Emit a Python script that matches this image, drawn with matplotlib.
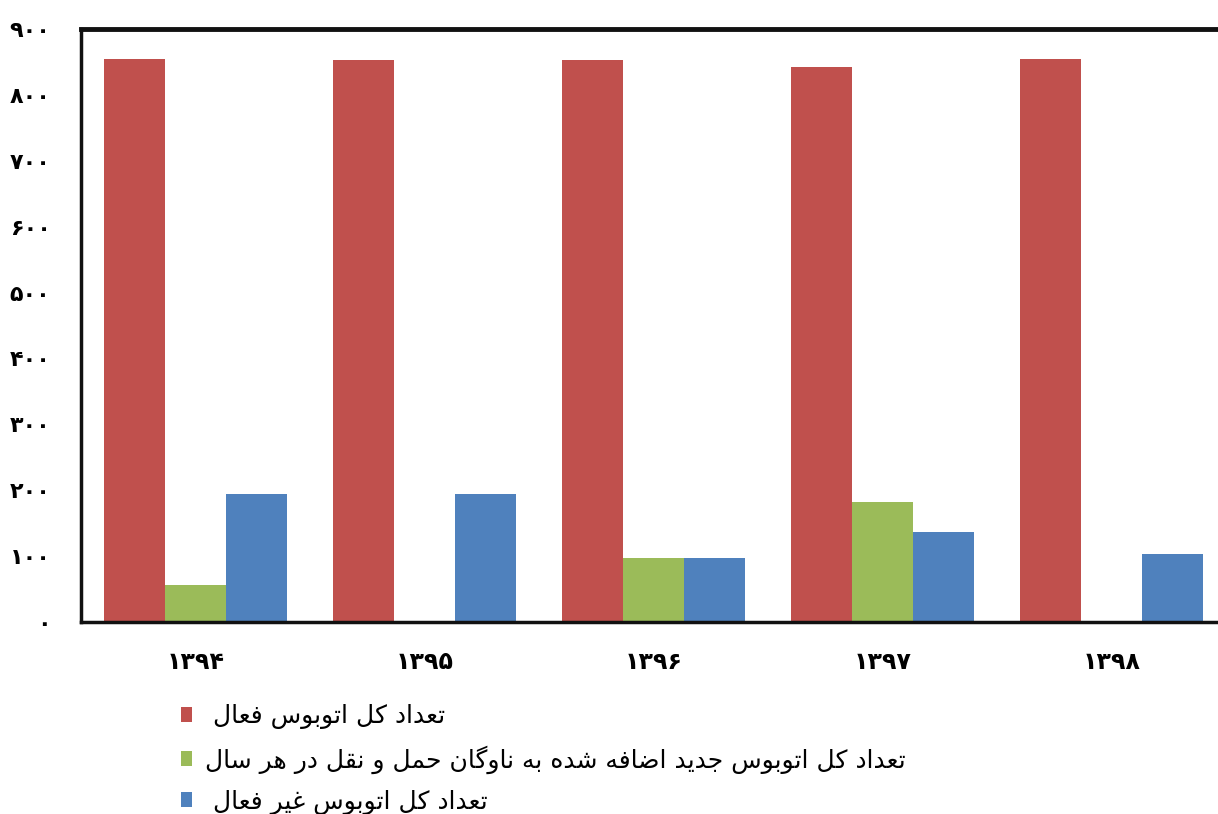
import numpy as np
import matplotlib
matplotlib.use("Agg")
import matplotlib.pyplot as plt

# data
years = [1394, 1395, 1396, 1397, 1398]
active_total = [854, 853, 853, 842, 854]
new_added = [56, 0, 97, 182, 0]
inactive_total = [194, 194, 97, 137, 103]

labels = ["تعداد کل اتوبوس فعال ",
          "تعداد کل اتوبوس جدید اضافه شده به ناوگان حمل و نقل در هر سال",
          "تعداد کل اتوبوس غیر فعال "]
colors = ["#C0504D", "#9BBB59", "#4F81BD"]

# Arabic presentation forms: (isolated, final, initial, medial)
FORMS = {
    "ا": (0xFE8D, 0xFE8E, None, None),
    "ب": (0xFE8F, 0xFE90, 0xFE91, 0xFE92),
    "ت": (0xFE95, 0xFE96, 0xFE97, 0xFE98),
    "ج": (0xFE9D, 0xFE9E, 0xFE9F, 0xFEA0),
    "ح": (0xFEA1, 0xFEA2, 0xFEA3, 0xFEA4),
    "د": (0xFEA9, 0xFEAA, None, None),
    "ر": (0xFEAD, 0xFEAE, None, None),
    "س": (0xFEB1, 0xFEB2, 0xFEB3, 0xFEB4),
    "ش": (0xFEB5, 0xFEB6, 0xFEB7, 0xFEB8),
    "ض": (0xFEBD, 0xFEBE, 0xFEBF, 0xFEC0),
    "ع": (0xFEC9, 0xFECA, 0xFECB, 0xFECC),
    "غ": (0xFECD, 0xFECE, 0xFECF, 0xFED0),
    "ف": (0xFED1, 0xFED2, 0xFED3, 0xFED4),
    "ق": (0xFED5, 0xFED6, 0xFED7, 0xFED8),
    "ل": (0xFEDD, 0xFEDE, 0xFEDF, 0xFEE0),
    "م": (0xFEE1, 0xFEE2, 0xFEE3, 0xFEE4),
    "ن": (0xFEE5, 0xFEE6, 0xFEE7, 0xFEE8),
    "ه": (0xFEE9, 0xFEEA, 0xFEEB, 0xFEEC),
    "و": (0xFEED, 0xFEEE, None, None),
    "ک": (0xFB8E, 0xFB8F, 0xFB90, 0xFB91),
    "گ": (0xFB92, 0xFB93, 0xFB94, 0xFB95),
    "ی": (0xFBFC, 0xFBFD, 0xFBFE, 0xFBFF),
}


def farsi(s):
    # crude shaping + reversal, matplotlib has no bidi
    out = []
    for i, ch in enumerate(s):
        if ch not in FORMS:
            out.append(ch)
            continue
        prev = s[i - 1] if i > 0 else ""
        nxt = s[i + 1] if i + 1 < len(s) else ""
        join_prev = prev in FORMS and FORMS[prev][2] is not None
        join_next = nxt in FORMS and FORMS[ch][2] is not None
        iso, fin, ini, med = FORMS[ch]
        if join_prev and join_next:
            code = med
        elif join_prev:
            code = fin
        elif join_next:
            code = ini
        else:
            code = iso
        out.append(chr(code))
    return "".join(out)[::-1]


def fa_digits(n):
    return str(n).translate(str.maketrans("0123456789", "۰۱۲۳۴۵۶۷۸۹"))


fig = plt.figure(figsize=(12.18, 8.14), dpi=100)
ax = fig.add_axes([81 / 1218, 192 / 814, 1145 / 1218, 593 / 814])

x = np.arange(len(years))
w = 0.8 / 3
series = [active_total, new_added, inactive_total]
handles = []
for j, vals in enumerate(series):
    b = ax.bar(x + (j - 1) * w, vals, width=w, color=colors[j], label=farsi(labels[j]))
    handles.append(b)

ax.set_xlim(-0.5, 4.5)
ax.set_ylim(0, 900)
ax.set_yticks(range(0, 901, 100))
ax.set_yticklabels([fa_digits(v) for v in range(0, 901, 100)],
                   fontsize=16, fontweight="bold", family=["DejaVu Sans"])
ax.set_xticks(x)
ax.set_xticklabels([fa_digits(y) for y in years],
                   fontsize=17, fontweight="bold", family=["DejaVu Sans"])
ax.tick_params(axis="y", length=0, pad=22)
ax.tick_params(axis="x", length=0, pad=20)

ax.spines["right"].set_visible(False)
ax.spines["top"].set_linewidth(3.5)
ax.spines["left"].set_linewidth(2.5)
ax.spines["bottom"].set_linewidth(2.5)
for s in ["top", "left", "bottom"]:
    ax.spines[s].set_color("#111111")

leg = fig.legend(handles=handles, loc="upper left", bbox_to_anchor=(181 / 1218, 1 - 704 / 814),
                 frameon=False, handlelength=0.45, handleheight=0.55,
                 handletextpad=0.5, labelspacing=0.64, borderaxespad=0, borderpad=0,
                 prop={"family": ["DejaVu Sans"], "size": 18})

fig.savefig("out.png", dpi=100)
